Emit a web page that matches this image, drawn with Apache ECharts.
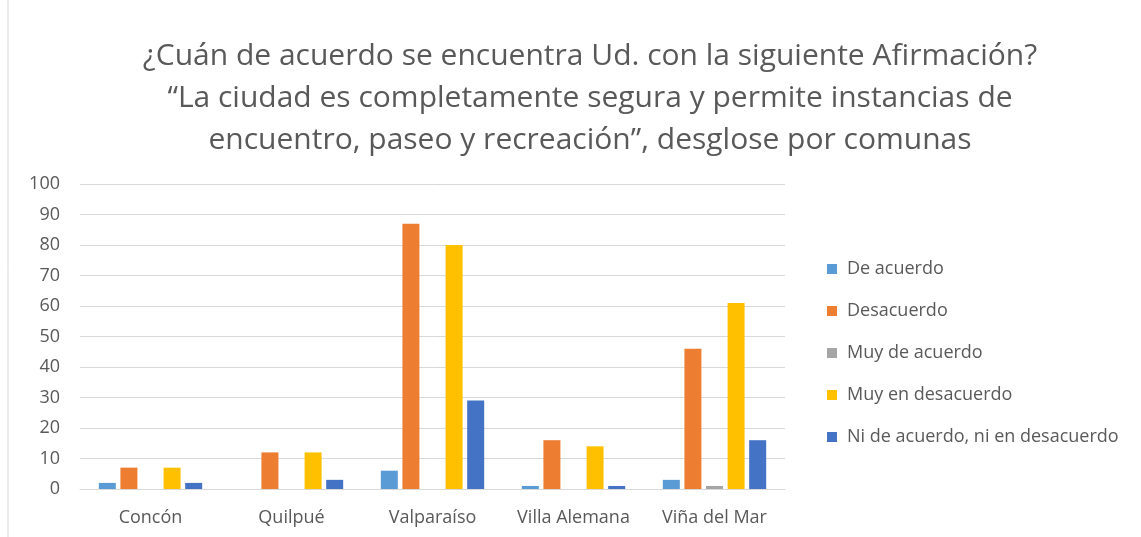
<!DOCTYPE html>
<html>
<head>
<meta charset="utf-8">
<script src="https://cdn.jsdelivr.net/npm/echarts@6/dist/echarts.min.js"></script>
<style>
  html, body { margin: 0; padding: 0; background: #fff; }
  #chart { width: 1141px; height: 537px; }
</style>
</head>
<body>
<div id="chart"></div>
<script>
// comunas
const comunas = ['Concón', 'Quilpué', 'Valparaíso', 'Villa Alemana', 'Viña del Mar'];

// respuestas por comuna
const deAcuerdo = [2, 0, 6, 1, 3];
const desacuerdo = [7, 12, 87, 16, 46];
const muyDeAcuerdo = [0, 0, 0, 0, 1];
const muyEnDesacuerdo = [7, 12, 80, 14, 61];
const niNi = [2, 3, 29, 1, 16];

const seriesNames = ['De acuerdo', 'Desacuerdo', 'Muy de acuerdo', 'Muy en desacuerdo', 'Ni de acuerdo, ni en desacuerdo'];
const seriesData = [deAcuerdo, desacuerdo, muyDeAcuerdo, muyEnDesacuerdo, niNi];
const colors = ['#5B9BD5', '#ED7D31', '#A5A5A5', '#FFC000', '#4472C4'];

const titleText = '¿Cuán de acuerdo se encuentra Ud. con la siguiente Afirmación?\n' +
  '“La ciudad es completamente segura y permite instancias de\n' +
  'encuentro, paseo y recreación”, desglose por comunas';

const chart = echarts.init(document.getElementById('chart'));

const option = {
  backgroundColor: '#fff',
  color: colors,
  title: {
    text: titleText,
    left: 585,
    top: 30,
    textAlign: 'center',
    textStyle: {
      fontFamily: 'Open Sans',
      fontSize: 30,
      fontWeight: 'normal',
      color: '#595959',
      lineHeight: 42
    }
  },
  legend: {
    orient: 'vertical',
    left: 822,
    top: 255,
    itemWidth: 10,
    itemHeight: 10,
    itemGap: 24,
    icon: 'rect',
    textStyle: {
      fontFamily: 'Open Sans',
      fontSize: 18,
      color: '#595959',
      padding: [0, 0, 0, 5]
    },
    data: seriesNames
  },
  grid: {
    left: 80,
    right: 356,
    top: 184,
    bottom: 48
  },
  xAxis: {
    type: 'category',
    data: comunas,
    axisTick: { show: false },
    axisLine: { lineStyle: { color: '#d9d9d9', width: 1 } },
    axisLabel: {
      interval: 0,
      hideOverlap: false,
      fontFamily: 'Open Sans',
      fontSize: 18,
      color: '#595959',
      margin: 20
    }
  },
  yAxis: {
    type: 'value',
    min: 0,
    max: 100,
    interval: 10,
    axisLine: { show: false },
    axisTick: { show: false },
    splitLine: { lineStyle: { color: '#d9d9d9', width: 1 } },
    axisLabel: {
      fontFamily: 'Open Sans',
      fontSize: 18,
      color: '#595959',
      margin: 20
    }
  },
  graphic: [{
    type: 'line',
    shape: { x1: 8, y1: 0, x2: 8, y2: 537 },
    style: { stroke: '#d9d9d9', lineWidth: 1 }
  }],
  series: seriesNames.map((name, i) => ({
    name: name,
    type: 'bar',
    data: seriesData[i],
    barWidth: 17,
    barGap: '27%',
    barCategoryGap: '27%'
  }))
};

chart.setOption(option);
</script>
</body>
</html>
